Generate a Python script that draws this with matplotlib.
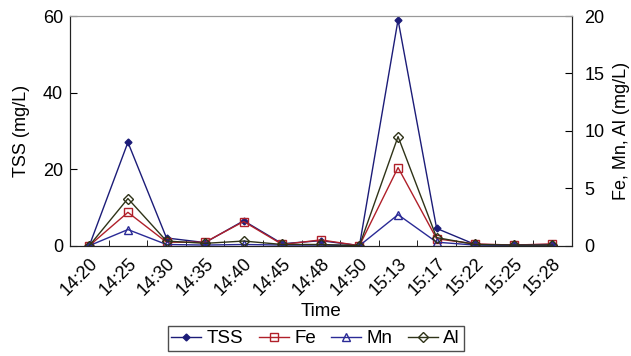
import matplotlib
matplotlib.use('Agg')
import matplotlib.pyplot as plt
import numpy as np

plt.rcParams['font.family'] = ['Liberation Sans', 'DejaVu Sans']

times = ['14:20', '14:25', '14:30', '14:35', '14:40', '14:45', '14:48',
         '14:50', '15:13', '15:17', '15:22', '15:25', '15:28']
tss = [0.0, 27.0, 2.0, 0.8, 6.5, 0.5, 1.3, 0.0, 59.0, 4.5, 0.3, 0.2, 0.3]
fe = [0.0, 2.9, 0.3, 0.3, 2.1, 0.1, 0.5, 0.0, 6.8, 0.6, 0.15, 0.05, 0.15]
mn = [0.0, 1.4, 0.1, 0.05, 0.1, 0.05, 0.05, 0.0, 2.7, 0.3, 0.05, 0.02, 0.05]
al = [0.0, 4.1, 0.4, 0.2, 0.4, 0.1, 0.1, 0.0, 9.5, 0.7, 0.1, 0.05, 0.05]

x = np.arange(len(times))
fs = 13

fig = plt.figure(figsize=(6.31, 3.56), dpi=100)
ax1 = fig.add_axes([0.111, 0.31, 0.795, 0.645])
ax2 = ax1.twinx()

l_tss, = ax1.plot(x, tss, color='#1c1c78', lw=1.0, marker='D', ms=3.5,
                  mfc='#1c1c78', mec='#1c1c78', label='TSS')
l_fe, = ax2.plot(x, fe, color='#b0202a', lw=1.0, marker='s', ms=6,
                 mfc='none', mec='#b0202a', label='Fe')
l_mn, = ax2.plot(x, mn, color='#2a2a96', lw=1.0, marker='^', ms=6,
                 mfc='none', mec='#2a2a96', label='Mn')
l_al, = ax2.plot(x, al, color='#2f3318', lw=1.0, marker='D', ms=5,
                 mfc='none', mec='#2f3318', label='Al')

ax1.set_xlim(-0.5, len(times) - 0.5)
ax1.set_ylim(0, 60)
ax2.set_ylim(0, 20)
ax1.set_yticks([0, 20, 40, 60])
ax2.set_yticks([0, 5, 10, 15, 20])

ax1.set_xticks(x)
ax1.set_xticklabels(times, rotation=45, ha='right', rotation_mode='anchor')
ax1.set_xticks(np.arange(len(times) + 1) - 0.5, minor=True)
ax1.tick_params(axis='x', which='major', length=0, labelsize=fs, pad=7)
ax1.tick_params(axis='x', which='minor', direction='in', length=4)
ax1.tick_params(axis='y', direction='in', length=5, labelsize=fs, pad=5)
ax2.tick_params(axis='y', direction='in', length=5, labelsize=fs, pad=9)

ax1.set_xlabel('Time', fontsize=fs + 0.5, labelpad=3)
ax1.set_ylabel('TSS (mg/L)', fontsize=fs, labelpad=9)
ax2.set_ylabel('Fe, Mn, Al (mg/L)', fontsize=fs, labelpad=6)

for ax in (ax1, ax2):
    for s in ax.spines.values():
        s.set_color('#222222')
    ax.spines['top'].set_color('#999999')
    ax.spines['top'].set_linewidth(0.8)

leg = fig.legend([l_tss, l_fe, l_mn, l_al], ['TSS', 'Fe', 'Mn', 'Al'],
                 loc='lower center', bbox_to_anchor=(0.5, -0.012), ncol=4,
                 frameon=True, fancybox=False, edgecolor='#222222',
                 fontsize=fs + 0.5, handlelength=1.6, columnspacing=0.8,
                 handletextpad=0.3, borderpad=0.2)
leg.get_frame().set_linewidth(1.0)

fig.savefig('out.png', dpi=100)
